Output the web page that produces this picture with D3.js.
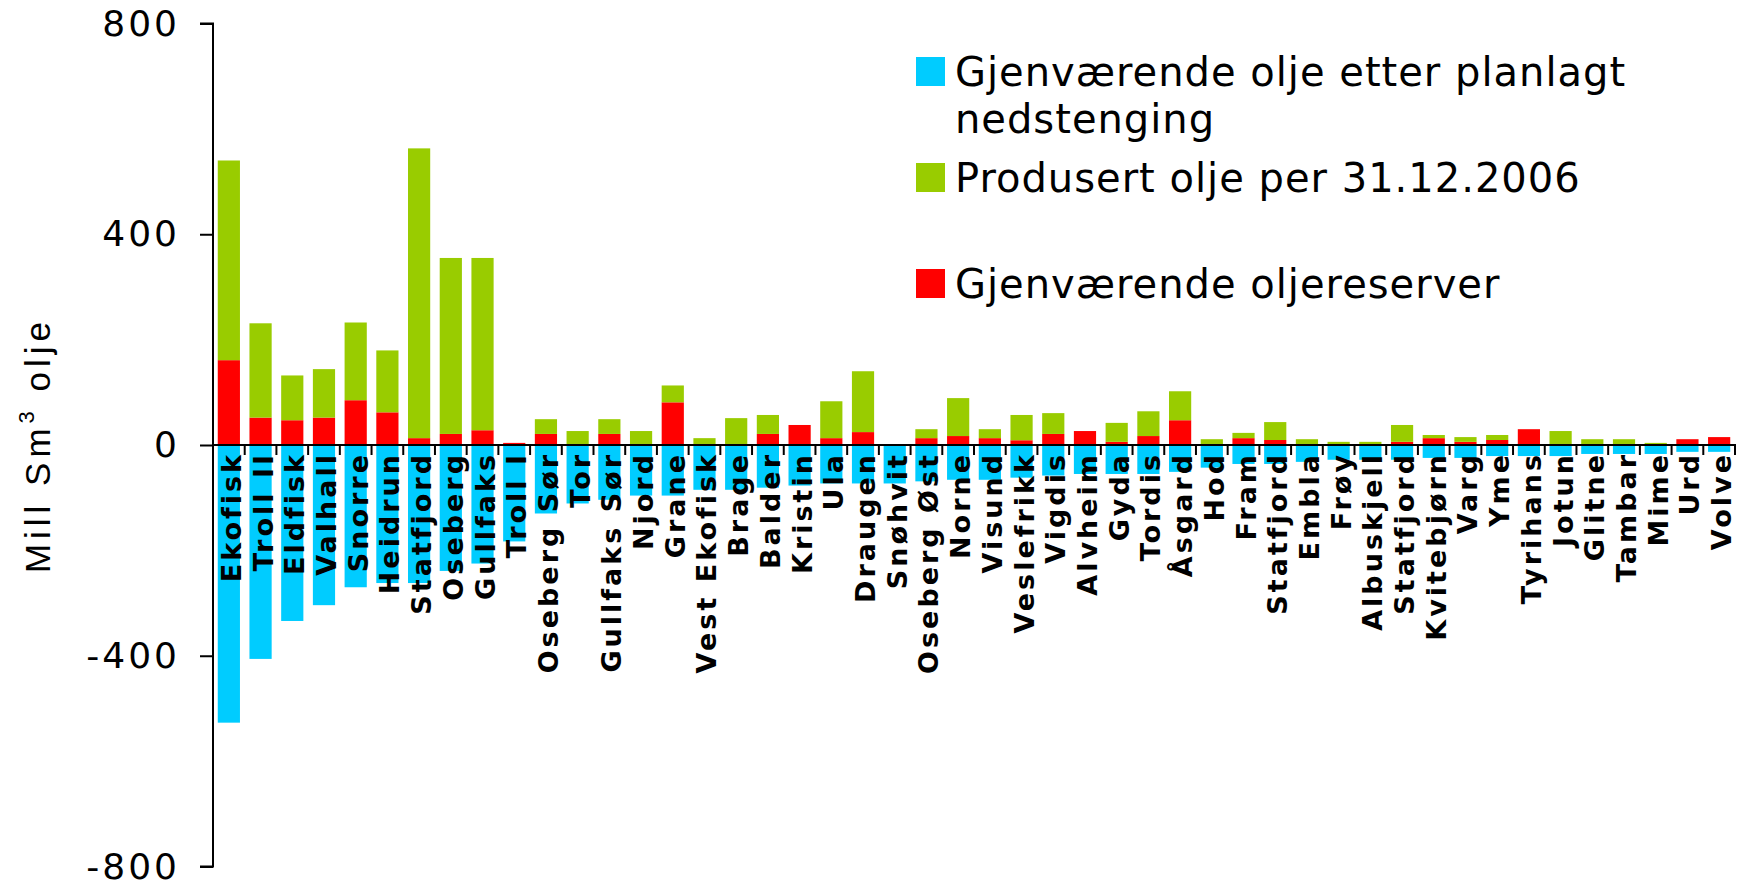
<!DOCTYPE html>
<html>
<head>
<meta charset="utf-8">
<script src="https://cdn.jsdelivr.net/npm/d3@7"></script>
<style>
  body { margin: 0; background: #fff; }
  svg { display: block; }
</style>
</head>
<body>
<div id="wrapper"></div>
<script>
// felt, sortert som i figuren
const fields = ["Ekofisk", "Troll II", "Eldfisk", "Valhall", "Snorre", "Heidrun", "Statfjord", "Oseberg", "Gullfaks", "Troll I",
  "Oseberg Sør", "Tor", "Gullfaks Sør", "Njord", "Grane", "Vest Ekofisk", "Brage", "Balder", "Kristin", "Ula",
  "Draugen", "Snøhvit", "Oseberg Øst", "Norne", "Visund", "Veslefrikk", "Vigdis", "Alvheim", "Gyda", "Tordis",
  "Åsgard", "Hod", "Fram", "Statfjord", "Embla", "Frøy", "Albuskjell", "Statfjord", "Kvitebjørn", "Varg",
  "Yme", "Tyrihans", "Jotun", "Glitne", "Tambar", "Mime", "Urd", "Volve"];

// Gjenværende oljereserver (rød)
const reserves = [161, 52, 47, 52, 85, 62, 13, 21, 28, 4,
  21, 1, 21, 1, 81, 0, 1.5, 21, 38, 13,
  24.5, 0, 13, 17, 13, 9, 21, 26.5, 6, 17,
  47, 1.5, 13, 9.5, 1, 0, 0, 6, 13, 6,
  9.5, 30, 1.5, 1.5, 1.5, 0, 11, 15];

// Produsert olje per 31.12.2006 (grønn)
const produced = [379, 179, 85, 92, 147.5, 117.5, 550, 334, 327, 0,
  28, 25.5, 28, 25.5, 32, 13, 49.5, 36, 0, 70,
  115.5, 0, 17, 72, 17, 48, 39.5, 0, 36, 47,
  55, 9.5, 10, 34, 10, 6, 6, 32, 6, 9,
  9.5, 0, 25, 9.5, 9.5, 4, 0, 0];

// Gjenværende olje etter planlagt nedstenging (cyan, negativ)
const remaining = [-527, -406, -334, -304, -270, -262, -262, -239, -225, -183,
  -130, -111, -104, -96, -96, -85, -85, -81, -77, -73,
  -73, -73, -69, -66, -66, -62, -58, -55, -55, -55,
  -51, -43, -36, -36, -32, -28, -28, -28, -24.5, -24.5,
  -21, -21, -21, -17, -17, -17, -13, -13];

const yTicks = [-800, -400, 0, 400, 800];

const legendItems = [
  {lines: ["Gjenværende olje etter planlagt", "nedstenging"], color: "#00CCFF"},
  {lines: ["Produsert olje per 31.12.2006"], color: "#99CC00"},
  {lines: ["Gjenværende oljereserver"], color: "#FF0000"}
];

const dimension = {width: 1751, height: 888};

const data = fields.map((f, i) => ({
  key: i, name: f,
  reserves: reserves[i], produced: produced[i], remaining: remaining[i]
}));

const svg = d3.select("#wrapper").append("svg")
  .attr("width", dimension.width)
  .attr("height", dimension.height);

const xScaler = d3.scaleBand()
  .domain(data.map(d => d.key))
  .range([213, 1735])
  .paddingInner(0.3)
  .paddingOuter(0.15);

const yScaler = d3.scaleLinear()
  .domain([-800, 800])
  .range([866.5, 23.5]);

// stablede positive søyler: rød nederst, grønn oppå
const stack = d3.stack().keys(["reserves", "produced"]);
const series = stack(data);
const colors = {reserves: "#FF0000", produced: "#99CC00"};

const bars = svg.append("g");
series.forEach(s => {
  bars.append("g")
    .attr("fill", colors[s.key])
    .selectAll("rect")
    .data(s)
    .join("rect")
    .attr("x", d => xScaler(d.data.key))
    .attr("width", xScaler.bandwidth())
    .attr("y", d => yScaler(d[1]))
    .attr("height", d => Math.max(0, yScaler(d[0]) - yScaler(d[1])));
});

bars.append("g")
  .attr("fill", "#00CCFF")
  .selectAll("rect")
  .data(data)
  .join("rect")
  .attr("x", d => xScaler(d.key))
  .attr("width", xScaler.bandwidth())
  .attr("y", yScaler(0))
  .attr("height", d => yScaler(d.remaining) - yScaler(0));

// y-akse
const yAxis = d3.axisLeft(yScaler)
  .tickValues(yTicks)
  .tickSize(13)
  .tickPadding(20)
  .tickFormat(d => String(d));

const yG = svg.append("g")
  .attr("transform", "translate(213,0)")
  .call(yAxis);
yG.select(".domain").attr("stroke", "#000").attr("stroke-width", 2)
  .attr("d", `M-13,${yScaler(800)}H0V${yScaler(-800)}H-13`);
yG.selectAll(".tick line").attr("stroke", "#000").attr("stroke-width", 2);
yG.selectAll(".tick text")
  .attr("font-family", "'DejaVu Sans', Verdana, sans-serif")
  .attr("font-size", 36)
  .attr("letter-spacing", 3)
  .attr("fill", "#000");

// x-akse (nullinje) med kategorigrenser
const step = xScaler.step();
const offset = (step - xScaler.bandwidth()) / 2;
const xG = svg.append("g").attr("transform", `translate(0,${yScaler(0)})`);
xG.append("line")
  .attr("x1", 213).attr("x2", xScaler(data[data.length - 1].key) + xScaler.bandwidth() + offset)
  .attr("stroke", "#000").attr("stroke-width", 2);
xG.selectAll("line.cat")
  .data(data)
  .join("line")
  .attr("class", "cat")
  .attr("x1", d => xScaler(d.key) + xScaler.bandwidth() + offset)
  .attr("x2", d => xScaler(d.key) + xScaler.bandwidth() + offset)
  .attr("y1", -1).attr("y2", 10)
  .attr("stroke", "#000").attr("stroke-width", 2);

// feltnavn
svg.append("g")
  .selectAll("text")
  .data(data)
  .join("text")
  .attr("transform", d => `translate(${xScaler(d.key) + xScaler.bandwidth() / 2 + 12},452) rotate(-90)`)
  .attr("text-anchor", "end")
  .attr("font-family", "'DejaVu Sans', Verdana, sans-serif")
  .attr("font-weight", "bold")
  .attr("font-size", 27)
  .attr("letter-spacing", 3)
  .attr("fill", "#000")
  .text(d => d.name);

// y-aksetittel
const title = svg.append("text")
  .attr("transform", `translate(50,${yScaler(0)}) rotate(-90)`)
  .attr("text-anchor", "middle")
  .attr("font-family", "'Liberation Sans', Arial, sans-serif")
  .attr("font-size", 35)
  .attr("letter-spacing", 5)
  .attr("fill", "#000");
title.append("tspan").text("Mill Sm");
title.append("tspan").attr("dy", -16).attr("font-size", 22).text("3");
title.append("tspan").attr("dy", 16).text(" olje");

// tegnforklaring
const legendTops = [57, 163, 269];
const legend = svg.append("g");
legendItems.forEach((item, i) => {
  const top = legendTops[i];
  legend.append("rect")
    .attr("x", 916).attr("y", top)
    .attr("width", 29).attr("height", 29)
    .attr("fill", item.color);
  item.lines.forEach((line, j) => {
    legend.append("text")
      .attr("x", 955)
      .attr("y", top + 29 + j * 47)
      .attr("font-family", "'DejaVu Sans', Verdana, sans-serif")
      .attr("font-size", 40)
      .attr("letter-spacing", 1)
      .attr("fill", "#000")
      .text(line);
  });
});
</script>
</body>
</html>
